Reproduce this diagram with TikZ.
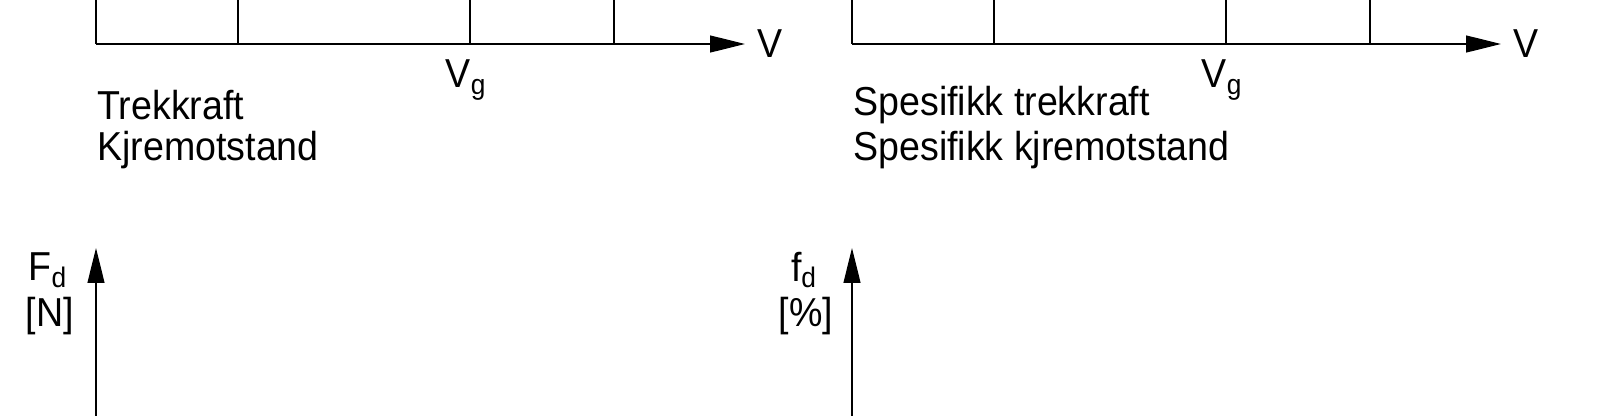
\documentclass[tikz,border=0pt]{standalone}
\usepackage{fontspec}
\setmainfont{Liberation Sans}
\usetikzlibrary{arrows.meta}
\begin{document}
\begin{tikzpicture}[x=0.02cm,y=-0.02cm,
  ax/.style={line width=0.7pt,-{Triangle[length=0.7cm,width=0.34cm]}},
  tk/.style={line width=0.7pt},
  lb/.style={inner sep=0pt,anchor=west,font=\fontsize{23}{26}\selectfont\addfontfeature{FakeStretch=0.93}},
  lc/.style={inner sep=0pt,font=\fontsize{23}{26}\selectfont\addfontfeature{FakeStretch=0.93}}]
\useasboundingbox (0,0) rectangle (1600,416);
\foreach \o/\ta/\tb/\ya/\yb/\pos in {0/Trekkraft/Kjremotstand/F/N/L,756/Spesifikk trekkraft/Spesifikk kjremotstand/f/\%/R}{
  \coordinate (o\pos) at (96+\o,44);
  \coordinate (e\pos) at (745+\o,44);
  \draw[ax] (o\pos) -- (e\pos);
  \foreach \x in {96,238,470,614}{\coordinate (t\pos\x) at (\x+\o,0); \coordinate (b\pos\x) at (\x+\o,44); \draw[tk] (t\pos\x) -- (b\pos\x);}
  \node[lc] (v\pos) at (770+\o,44) {V};
  \node[lc] (vg\pos) at (466+\o,80) {V\textsubscript{g}};
  \node[lb] (ta\pos) at (97+\o,105) {\ta};
  \node[lb] (tb\pos) at (97+\o,150) {\tb};
  \coordinate (yb\pos) at (96+\o,416);
  \coordinate (yt\pos) at (96+\o,248);
  \draw[ax] (yb\pos) -- (yt\pos);
  \node[lc] (fl\pos) at (48+\o,270) {\ya\textsubscript{d}};
  \node[lc] (ul\pos) at (50+\o,316) {[\yb]};
}
\end{tikzpicture}
\end{document}
